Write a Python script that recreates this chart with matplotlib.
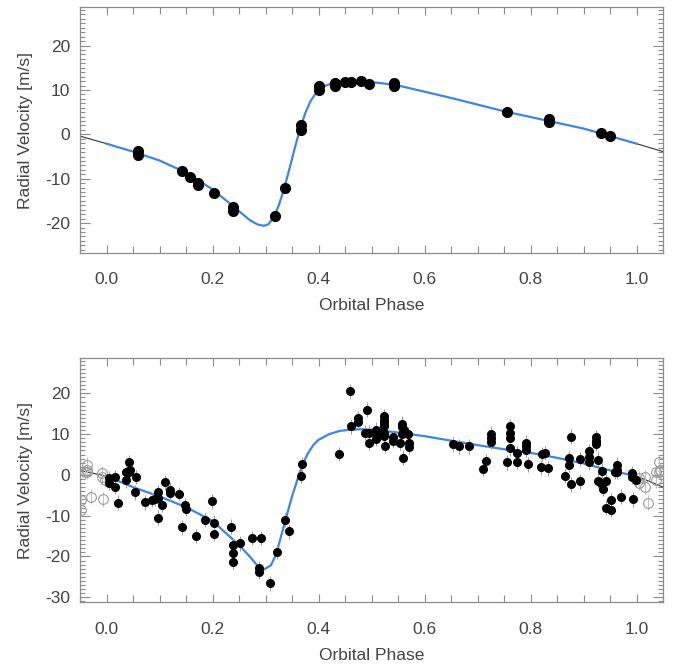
import numpy as np
import matplotlib
matplotlib.use("Agg")
import matplotlib.pyplot as plt
from matplotlib.ticker import MultipleLocator, FormatStrFormatter

plt.rcParams["font.family"] = ["Liberation Sans", "DejaVu Sans"]
plt.rcParams["axes.unicode_minus"] = False

# ---- top panel: data and fitted curve
top_phase = [0.060, 0.060, 0.142, 0.157, 0.173, 0.173, 0.202, 0.238, 0.238, 0.317,
             0.336, 0.366, 0.366, 0.401, 0.401, 0.432, 0.432, 0.449, 0.462, 0.480,
             0.495, 0.542, 0.542, 0.755, 0.835, 0.835, 0.932, 0.949]
top_rv = [-3.8, -4.6, -8.2, -9.5, -10.9, -11.5, -13.3, -16.3, -17.2, -18.5,
          -12.0, 2.1, 1.0, 10.9, 10.0, 11.5, 10.9, 11.75, 11.75, 12.1,
          11.4, 11.5, 10.9, 5.0, 3.4, 2.7, 0.4, -0.45]
top_err = 1.0

top_curve_phase = [0.00, 0.05, 0.10, 0.15, 0.20, 0.24, 0.27, 0.285, 0.297, 0.305,
                   0.315, 0.325, 0.335, 0.345, 0.355, 0.365, 0.375, 0.385, 0.395, 0.41,
                   0.43, 0.46, 0.49, 0.52, 0.55, 0.60, 0.65, 0.70, 0.75, 0.80,
                   0.85, 0.90, 0.95, 1.00]
top_curve_rv = [-2.1, -3.9, -5.9, -8.6, -12.4, -16.3, -19.3, -20.3, -20.6, -20.3,
                -18.8, -16.0, -12.3, -7.8, -3.2, 1.2, 4.8, 7.5, 9.3, 10.8,
                11.7, 12.0, 11.9, 11.5, 11.0, 9.6, 8.2, 6.7, 5.2, 3.9,
                2.6, 1.3, -0.4, -2.1]

# ---- bottom panel
bot_phase = [0.004, 0.004, 0.016, 0.016, 0.021, 0.036, 0.036, 0.043, 0.042, 0.044,
             0.056, 0.054, 0.072, 0.086, 0.092, 0.097, 0.097, 0.097, 0.105, 0.111,
             0.119, 0.119, 0.136, 0.142, 0.148, 0.150, 0.169, 0.186, 0.199, 0.202,
             0.202, 0.234, 0.239, 0.239, 0.239, 0.251, 0.274, 0.292, 0.287, 0.287,
             0.309, 0.322, 0.336, 0.344, 0.366, 0.368, 0.438, 0.460, 0.462, 0.475,
             0.475, 0.491, 0.487, 0.495, 0.495, 0.508, 0.508, 0.508, 0.523, 0.523,
             0.523, 0.523, 0.523, 0.523, 0.526, 0.540, 0.540, 0.553, 0.558, 0.558,
             0.558, 0.562, 0.559, 0.569, 0.570, 0.570, 0.654, 0.665, 0.684, 0.710,
             0.716, 0.725, 0.725, 0.725, 0.761, 0.761, 0.761, 0.761, 0.756, 0.775,
             0.775, 0.791, 0.791, 0.791, 0.795, 0.819, 0.822, 0.828, 0.832, 0.865,
             0.872, 0.872, 0.877, 0.877, 0.894, 0.894, 0.911, 0.911, 0.911, 0.924,
             0.924, 0.924, 0.928, 0.934, 0.928, 0.932, 0.937, 0.943, 0.943, 0.952,
             0.952, 0.963, 0.963, 0.964, 0.960, 0.970, 0.992, 0.992, 0.993, 0.998]
bot_rv = [-0.8, -2.0, -0.6, -3.0, -6.8, 0.6, -1.3, 3.2, 0.8, 1.2,
          -0.5, -4.3, -6.7, -6.1, -5.9, -4.2, -5.6, -10.5, -7.3, -1.8,
          -3.6, -4.5, -4.7, -12.9, -7.5, -8.4, -15.0, -11.1, -6.5, -11.7,
          -14.5, -12.7, -17.2, -19.1, -21.4, -16.8, -15.5, -15.5, -22.8, -23.8,
          -26.6, -18.9, -11.1, -13.8, -0.2, 2.6, 5.1, 20.5, 11.9, 13.9,
          13.1, 16.0, 10.4, 10.4, 7.8, 11.1, 10.0, 8.9, 14.4, 13.5,
          12.7, 11.9, 10.2, 9.6, 7.1, 9.2, 8.3, 7.9, 12.6, 11.8,
          10.0, 11.1, 4.2, 10.0, 7.8, 6.9, 7.5, 7.0, 7.0, 1.5,
          3.3, 10.1, 9.0, 8.1, 11.9, 10.4, 9.1, 6.5, 3.1, 5.3,
          3.2, 7.9, 7.0, 6.1, 2.6, 1.9, 5.1, 5.4, 1.6, -0.3,
          4.1, 2.4, 9.4, -2.3, 3.9, -1.6, 5.8, 4.3, 3.1, 9.2,
          8.4, 7.6, 3.7, 1.0, -1.4, -2.0, -3.4, -1.6, -8.0, -6.2,
          -8.6, 2.5, 1.2, 0.8, 0.8, -5.3, 0.4, -0.4, -6.0, -1.2]
bot_err = 1.8

bot_curve_phase = [0.00, 0.05, 0.10, 0.15, 0.20, 0.25, 0.27, 0.285, 0.297, 0.31,
                   0.32, 0.335, 0.35, 0.36, 0.37, 0.38, 0.39, 0.40, 0.42, 0.44,
                   0.46, 0.48, 0.50, 0.55, 0.60, 0.65, 0.70, 0.75, 0.80, 0.85,
                   0.90, 0.95, 1.00]
bot_curve_rv = [-0.3, -3.0, -5.3, -7.9, -11.3, -17.2, -20.0, -22.3, -23.2, -22.2,
                -19.5, -12.3, -5.3, -1.2, 2.6, 5.3, 7.3, 8.6, 10.0, 10.8,
                11.1, 11.2, 11.1, 10.4, 9.5, 8.4, 7.3, 6.3, 5.4, 4.2,
                2.8, 1.1, -0.3]

BLUE = "#3d86e3"
GRAY = "#8c8c8c"
TXT = "#444444"


def panel(ax, phase, rv, err, cph, crv, ylim, ms):
    phase = np.asarray(phase)
    rv = np.asarray(rv)
    cph = np.asarray(cph)
    # model: blue over one orbit, thin dark line for the wrapped parts
    for s in (-1, 1):
        ax.plot(cph + s, crv, color="#333333", lw=0.8, zorder=2)
    ax.plot(cph, crv, color=BLUE, lw=1.6, zorder=3)

    # wrapped copies of points near the edges shown as open circles
    lo = phase > 0.95
    hi = phase < 0.05
    wp = np.concatenate([phase[lo] - 1, phase[hi] + 1])
    wr = np.concatenate([rv[lo], rv[hi]])
    ax.errorbar(wp, wr, yerr=err, fmt="o", ms=ms + 1.5, mfc="none", mec="#9a9a9a",
                mew=0.8, ecolor="#c0c0c0", elinewidth=0.7, capsize=0, zorder=4)
    ax.errorbar(phase, rv, yerr=err, fmt="o", ms=ms, color="black",
                ecolor="#9a9a9a", elinewidth=0.7, capsize=0, zorder=5)

    ax.set_xlim(-0.05, 1.05)
    ax.set_ylim(*ylim)
    ax.xaxis.set_major_locator(MultipleLocator(0.2))
    ax.xaxis.set_minor_locator(MultipleLocator(0.05))
    ax.xaxis.set_major_formatter(FormatStrFormatter("%.1f"))
    ax.yaxis.set_major_locator(MultipleLocator(10))
    ax.yaxis.set_minor_locator(MultipleLocator(1))
    ax.tick_params(which="both", direction="in", top=True, right=True,
                   color=GRAY, width=0.8, labelcolor=TXT, labelsize=12.5)
    ax.tick_params(axis="x", which="major", length=6, pad=14)
    ax.tick_params(axis="x", which="minor", length=5)
    ax.tick_params(axis="y", which="major", length=7, pad=7)
    ax.tick_params(axis="y", which="minor", length=3.5)
    for sp in ax.spines.values():
        sp.set_color(GRAY)
        sp.set_linewidth(0.9)
    ax.set_xlabel("Orbital Phase", fontsize=12.5, color=TXT, labelpad=8)
    ax.set_ylabel("Radial Velocity [m/s]", fontsize=12.5, color=TXT, labelpad=9)


fig = plt.figure(figsize=(6.78, 6.69), dpi=100)
ax1 = fig.add_axes([0.118, 0.622, 0.860, 0.367])
ax2 = fig.add_axes([0.118, 0.100, 0.860, 0.365])

panel(ax1, top_phase, top_rv, top_err, top_curve_phase, top_curve_rv, (-26.7, 28.6), 7)
panel(ax2, bot_phase, bot_rv, bot_err, bot_curve_phase, bot_curve_rv, (-31.2, 28.7), 5.5)

fig.savefig("out.png", dpi=100)
